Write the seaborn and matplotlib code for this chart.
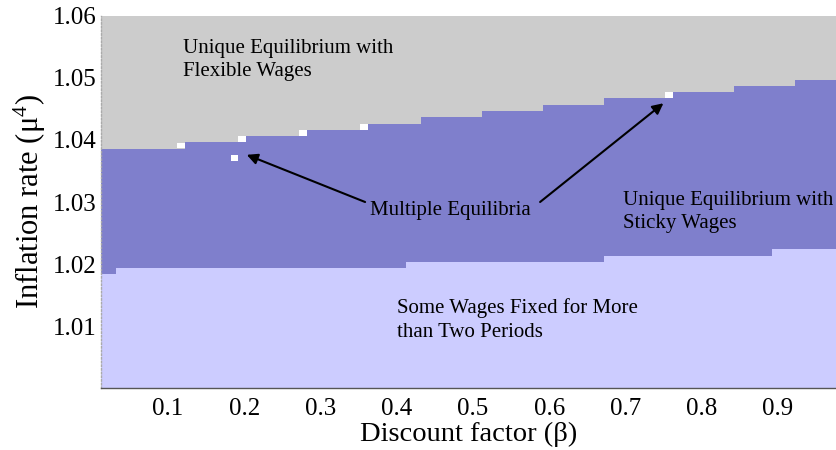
import matplotlib
matplotlib.use("Agg")
import matplotlib.pyplot as plt
import numpy as np
import seaborn as sns

sns.set_style("white")
plt.rcParams['font.family'] = ['Liberation Serif', 'DejaVu Serif']
plt.rcParams['mathtext.fontset'] = 'custom'
plt.rcParams['mathtext.rm'] = 'Liberation Serif'
plt.rcParams['mathtext.default'] = 'regular'
for key in ['text.color', 'axes.labelcolor', 'xtick.color', 'ytick.color']:
    plt.rcParams[key] = 'black'

# region boundaries (beta step edges, mu level of each step)
upper_beta = [0.012, 0.122, 0.202, 0.282, 0.362, 0.432, 0.512, 0.592,
              0.672, 0.762, 0.842, 0.922, 0.976]
upper_mu = [1.0386, 1.0396, 1.0406, 1.0416, 1.0426, 1.0437, 1.0446,
            1.0456, 1.0467, 1.0477, 1.0487, 1.0497]
lower_beta = [0.012, 0.032, 0.412, 0.672, 0.892, 0.976]
lower_mu = [1.0184, 1.0193, 1.0204, 1.0213, 1.0224]

# grid cells with multiple equilibria
mult_beta = [0.117, 0.197, 0.277, 0.357, 0.187, 0.757]
mult_mu = [1.0391, 1.0401, 1.0411, 1.0421, 1.0371, 1.0472]

x_ticks = [0.1, 0.2, 0.3, 0.4, 0.5, 0.6, 0.7, 0.8, 0.9]
y_ticks = [1.01, 1.02, 1.03, 1.04, 1.05, 1.06]

gray = '#cccccc'
purple = '#7f7fcc'
lavender = '#ccccff'

fig = plt.figure(figsize=(8.36, 4.5), dpi=100)
ax = fig.add_axes([0.1208, 0.1371, 0.8792, 0.828])
ax.set_facecolor(gray)

ub = np.array(upper_beta)
um = np.append(upper_mu, upper_mu[-1])
lb = np.array(lower_beta)
lm = np.append(lower_mu, lower_mu[-1])

ax.fill_between(ub, 1.0, um, step='post', color=purple, lw=0)
ax.fill_between(lb, 1.0, lm, step='post', color=lavender, lw=0)
ax.bar(mult_beta, 0.00095, width=0.0098, bottom=np.array(mult_mu) - 0.000475,
       color='white', lw=0)

txt = dict(fontsize=15, ha='left', va='center', linespacing=1.3)
ax.text(0.1197, 1.0529, 'Unique Equilibrium with\nFlexible Wages', **txt)
ax.text(0.6967, 1.0284, 'Unique Equilibrium with\nSticky Wages', **txt)
ax.text(0.4003, 1.0110, 'Some Wages Fixed for More\nthan Two Periods', **txt)
ax.text(0.365, 1.0286, 'Multiple Equilibria', **txt)

arrow = dict(arrowstyle='-|>', color='black', lw=1.5, mutation_scale=16,
             shrinkA=0, shrinkB=0)
ax.annotate('', xy=(0.2032, 1.0376), xytext=(0.3584, 1.0300), arrowprops=arrow)
ax.annotate('', xy=(0.7496, 1.0459), xytext=(0.5879, 1.0300), arrowprops=arrow)

ax.set_xlim(0.012, 0.976)
ax.set_ylim(1.0, 1.06)
ax.set_xticks(x_ticks)
ax.set_xticklabels([f'{v:.1f}' for v in x_ticks])
ax.set_yticks(y_ticks)
ax.set_yticklabels([f'{v:.2f}' for v in y_ticks])
ax.tick_params(axis='x', length=0, pad=7, labelsize=18)
ax.tick_params(axis='y', length=0, pad=3, labelsize=18)

ax.set_xlabel('Discount factor (β)', fontsize=20.5, labelpad=1)
ax.set_ylabel('Inflation rate (μ$^{4}$)', fontsize=22, labelpad=4)

sns.despine(ax=ax, top=True, right=True)
ax.spines['bottom'].set_color('#555555')
ax.spines['bottom'].set_linewidth(1.0)
ax.spines['left'].set_color('#aaaaaa')
ax.spines['left'].set_linestyle(':')
ax.spines['left'].set_linewidth(1.0)

fig.savefig('out.png', dpi=100)
